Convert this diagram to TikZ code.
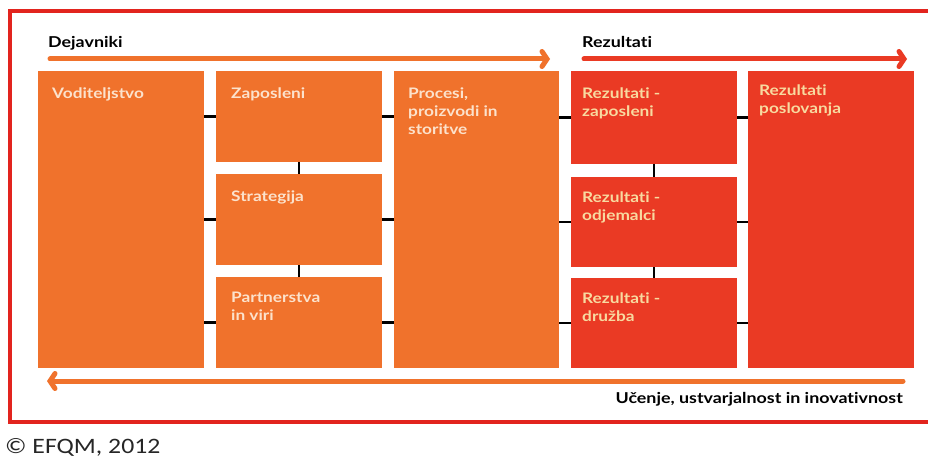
\documentclass[tikz,border=0pt]{standalone}
\usepackage{fontspec}
\setmainfont[FakeStretch=1.19, Ligatures=NoCommon]{Lato}
\newfontfamily\capfont[FakeStretch=1.17]{Carlito}
\usetikzlibrary{arrows.meta}
\definecolor{efqmorange}{RGB}{240,114,44}
\definecolor{efqmred}{RGB}{234,58,36}
\definecolor{framered}{RGB}{226,36,30}
\definecolor{peach}{RGB}{252,226,204}
\definecolor{paleyellow}{RGB}{248,218,160}
\tikzset{
  obox/.style={draw=none, fill=efqmorange, anchor=north west, inner sep=0pt, outer sep=0pt},
  rbox/.style={draw=none, fill=efqmred, anchor=north west, inner sep=0pt, outer sep=0pt},
  otext/.style={anchor=north west, align=left, text=peach, font=\bfseries\fontsize{14.5}{18}\selectfont, inner sep=0pt},
  rtext/.style={otext, text=paleyellow},
  link/.style={draw=black, line width=2.6pt},
  flow/.style={line width=5pt, line cap=round, -{Straight Barb[length=5pt, width=15pt, line cap=round]}},
  head/.style={anchor=base west, inner sep=0pt, font=\bfseries\fontsize{15}{17}\selectfont}
}
\begin{document}
\begin{tikzpicture}[x=1pt, y=-1pt]
\useasboundingbox (0,0) rectangle (928,457);
\fill[white] (0,0) rectangle (928,457);
% frame
\draw[framered, line width=4pt] (940,11) -- (10,11) -- (10,422) -- (940,422);
% headings
\node[head] (dej) at (48,48) {Dejavniki};
\node[head] (rez) at (582,48) {Rezultati};
\coordinate (a1s) at (50,59);
\coordinate (a1e) at (550,59);
\coordinate (a2s) at (584,59);
\coordinate (a2e) at (907,59);
\draw[flow, efqmorange] (a1s) -- (a1e);
\draw[flow, efqmred] (a2s) -- (a2e);
% boxes
\node[obox, minimum width=166pt, minimum height=297pt] (vod) at (38,71) {};
\node[obox, minimum width=166pt, minimum height=91pt] (zap) at (216,71) {};
\node[obox, minimum width=166pt, minimum height=91pt] (str) at (216,174) {};
\node[obox, minimum width=166pt, minimum height=91pt] (par) at (216,277) {};
\node[obox, minimum width=165pt, minimum height=297pt] (pro) at (394,71) {};
\node[rbox, minimum width=166pt, minimum height=93pt] (rzap) at (571,71) {};
\node[rbox, minimum width=166pt, minimum height=90pt] (rodj) at (571,177) {};
\node[rbox, minimum width=166pt, minimum height=90pt] (rdru) at (571,278) {};
\node[rbox, minimum width=166pt, minimum height=297pt] (rpos) at (748,71) {};
% box texts
\node[otext] (tvod) at ([shift={(14,17)}]vod.north west) {Voditeljstvo};
\node[otext] (tzap) at ([shift={(15,17)}]zap.north west) {Zaposleni};
\node[otext] (tstr) at ([shift={(15,17)}]str.north west) {Strategija};
\node[otext] (tpar) at ([shift={(15,15)}]par.north west) {Partnerstva\\in viri};
\node[otext] (tpro) at ([shift={(14,17)}]pro.north west) {Procesi,\\proizvodi in\\storitve};
\node[rtext] (trzap) at ([shift={(11,17)}]rzap.north west) {Rezultati -\\zaposleni};
\node[rtext] (trodj) at ([shift={(11,15)}]rodj.north west) {Rezultati -\\odjemalci};
\node[rtext] (trdru) at ([shift={(11,15)}]rdru.north west) {Rezultati -\\družba};
\node[rtext] (trpos) at ([shift={(11,14)}]rpos.north west) {Rezultati\\poslovanja};
% links
\draw[link] (zap.west) -- (zap.west -| vod.east);
\draw[link] (str.west) -- (str.west -| vod.east);
\draw[link] (par.west) -- (par.west -| vod.east);
\draw[link] (zap.east) -- (zap.east -| pro.west);
\draw[link] (str.east) -- (str.east -| pro.west);
\draw[link] (par.east) -- (par.east -| pro.west);
\draw[link] (zap.south) -- (str.north);
\draw[link] (str.south) -- (par.north);
\draw[link] (rzap.west) -- (rzap.west -| pro.east);
\draw[link] (rodj.west) -- (rodj.west -| pro.east);
\draw[link] (rdru.west) -- (rdru.west -| pro.east);
\draw[link] (rzap.east) -- (rzap.east -| rpos.west);
\draw[link] (rodj.east) -- (rodj.east -| rpos.west);
\draw[link] (rdru.east) -- (rdru.east -| rpos.west);
\draw[link] (rzap.south) -- (rodj.north);
\draw[link] (rodj.south) -- (rdru.north);
% bottom arrow
\coordinate (b1s) at (903,381);
\coordinate (b1e) at (47,381);
\draw[flow, efqmorange] (b1s) -- (b1e);
\node[head, anchor=base east] (learn) at (903,403) {Učenje, ustvarjalnost in inovativnost};
% caption
\node[anchor=base west, inner sep=0pt, font=\capfont\fontsize{22}{24}\selectfont, text=black!85] (cap) at (5,453) {© EFQM, 2012};
\end{tikzpicture}
\end{document}
